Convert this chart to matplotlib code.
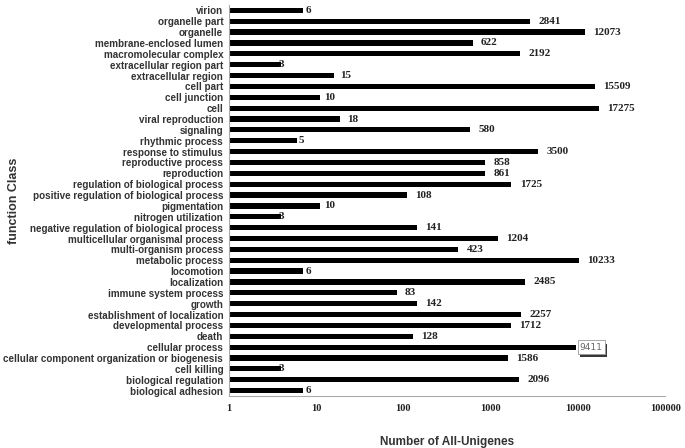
import numpy as np
import matplotlib.pyplot as plt
import matplotlib.patheffects as pe

# categories, listed top to bottom as in the chart
categories = [
    "virion", "organelle part", "organelle", "membrane-enclosed lumen",
    "macromolecular complex", "extracellular region part", "extracellular region",
    "cell part", "cell junction", "cell", "viral reproduction", "signaling",
    "rhythmic process", "response to stimulus", "reproductive process",
    "reproduction", "regulation of biological process",
    "positive regulation of biological process", "pigmentation",
    "nitrogen utilization", "negative regulation of biological process",
    "multicellular organismal process", "multi-organism process",
    "metabolic process", "locomotion", "localization", "immune system process",
    "growth", "establishment of localization", "developmental process", "death",
    "cellular process", "cellular component organization or biogenesis",
    "cell killing", "biological regulation", "biological adhesion",
]
counts = [
    6, 2841, 12073, 622, 2192, 3, 15, 15509, 10, 17275, 18, 580, 5, 3500,
    858, 861, 1725, 108, 10, 3, 141, 1204, 423, 10233, 6, 2485, 83, 142,
    2257, 1712, 128, 9411, 1586, 3, 2096, 6,
]
xticks = [1, 10, 100, 1000, 10000, 100000]
xtick_labels = ["1", "10", "100", "1000", "10000", "100000"]

fig = plt.figure(figsize=(6.85, 4.48), dpi=100)
ax = fig.add_axes([0.334, 0.116, 0.637, 0.873])

y = np.arange(len(categories))[::-1]
ax.barh(y, counts, height=0.48, color="black", left=1)

ax.set_xscale("log")
ax.set_xlim(1, 100000)
ax.set_ylim(-0.5, len(categories) - 0.5)
ax.set_xticks(xticks)
ax.set_xticklabels(xtick_labels, family="Liberation Serif", fontweight="bold",
                   fontsize=7.5, color="#222222")
ax.minorticks_off()
ax.set_yticks(y)
ax.set_yticklabels(categories, family="Liberation Sans", fontweight="bold",
                   fontsize=7.1, color="#333333")
ax.tick_params(axis="x", length=0, pad=6)
ax.tick_params(axis="y", length=0, pad=4)

for s in ["top", "right"]:
    ax.spines[s].set_visible(False)
ax.spines["left"].set_color("#aaaaaa")
ax.spines["bottom"].set_color("#aaaaaa")

for yi, c in zip(y, counts):
    if c == 9411:
        # boxed label with a drop shadow
        t = ax.text(c * 1.12, yi, str(c), va="center", ha="left",
                    family="DejaVu Sans", fontsize=6.5, color="#666666",
                    bbox=dict(boxstyle="square,pad=0.25", fc="white", ec="#999999", lw=0.6))
        t.get_bbox_patch().set_path_effects([
            pe.SimplePatchShadow(offset=(1.5, -2.5), shadow_rgbFace="#222222", alpha=0.9),
            pe.Normal()])
    else:
        ax.text(c * 1.25, yi, str(c), va="center", ha="left",
                family="Liberation Serif", fontweight="bold", fontsize=8,
                color="#222222")

ax.set_xlabel("Number of All-Unigenes", family="Liberation Sans", fontweight="bold",
              fontsize=8.5, color="#333333", labelpad=16)
ax.set_ylabel("function Class", family="Liberation Sans", fontweight="bold",
              fontsize=9, color="#333333")
ax.yaxis.set_label_coords(-0.478, 0.5)

fig.savefig("out.png", dpi=100)
